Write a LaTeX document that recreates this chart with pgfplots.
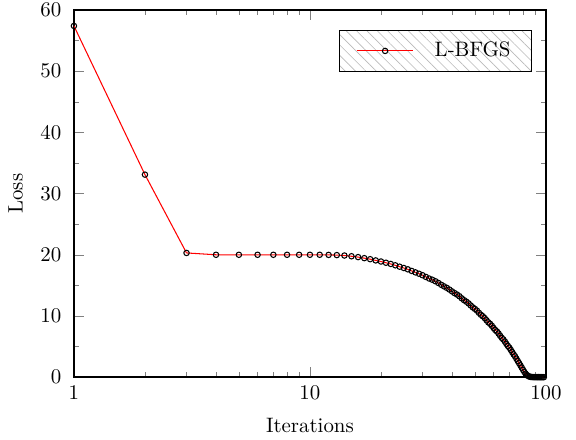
\documentclass[border=0pt]{standalone}
\usepackage{pgfplots}
\pgfplotsset{compat=1.18}
\usetikzlibrary{patterns.meta}
\begin{document}
\begin{tikzpicture}
\begin{axis}[
  scale only axis,
  width=226pt, height=175.8pt,
  xmode=log,
  xmin=1, xmax=100,
  ymin=0, ymax=60,
  ytick={0,10,...,60},
  minor y tick num=1,
  log ticks with fixed point,
  tick align=inside,
  xtick pos=both, ytick pos=both,
  xticklabel pos=bottom, yticklabel pos=left,
  major tick length=5pt, minor tick length=2.5pt,
  axis line style={line width=0.7pt},
  yticklabel style={xshift=-2.5pt},
  xticklabel style={yshift=-0.5pt},
  xlabel={Iterations}, ylabel={Loss},
  xlabel style={yshift=-2.5pt},
  ylabel style={yshift=1.5pt},
  legend style={at={(0.97,0.945)}, anchor=north east, draw=black,
    pattern={Lines[angle=-45, distance=3.5pt, line width=0.3pt]},
    pattern color=gray!55,
    inner xsep=8pt, inner ysep=3.5pt, column sep=8pt, font=\normalsize},
  legend image code/.code={
    \draw[red, line width=0.5pt, mark repeat=2, mark phase=2]
      plot coordinates {(0pt,0pt) (13.5pt,0pt) (27pt,0pt)};},
  legend cell align=left,
]
\addplot[red, line width=0.5pt, mark=o, mark size=1.3pt,
  mark options={draw=black, line width=0.5pt, fill=red!35}]
coordinates {
(1,57.4) (2,33.1) (3,20.3) (4,20.0) (5,20.0) (6,20.0) (7,20.0) (8,20.0)
(9,20.0) (10,20.0) (11,20.0) (12,19.98) (13,19.95) (14,19.88) (15,19.76)
(16,19.62) (17,19.45) (18,19.28) (19,19.08) (20,18.90) (21,18.70) (22,18.50)
(23,18.28) (24,18.05) (25,17.84) (26,17.62) (27,17.36) (28,17.12) (29,16.90)
(30,16.66) (31,16.38) (32,16.12) (33,15.92) (34,15.68) (35,15.40) (36,15.10)
(37,14.84) (38,14.60) (39,14.32) (40,14.02) (41,13.74) (42,13.50) (43,13.22)
(44,12.88) (45,12.58) (46,12.34) (47,12.06) (48,11.72) (49,11.40) (50,11.16)
(51,10.88) (52,10.52) (53,10.20) (54,9.96) (55,9.66) (56,9.30) (57,8.96)
(58,8.72) (59,8.40) (60,8.04) (61,7.70) (62,7.46) (63,7.14) (64,6.76)
(65,6.42) (66,6.16) (67,5.82) (68,5.44) (69,5.10) (70,4.82) (71,4.46)
(72,4.08) (73,3.72) (74,3.40) (75,3.02) (76,2.64) (77,2.28) (78,1.92)
(79,1.56) (80,1.20) (81,0.86) (82,0.58) (83,0.36) (84,0.20) (85,0.10)
(86,0.05) (87,0.03) (88,0.02) (89,0.01) (90,0.01) (91,0.0) (92,0.0)
(93,0.0) (94,0.0) (95,0.0) (96,0.0) (97,0.0) (98,0.0)
};
\addlegendentry{L-BFGS}
\end{axis}
\pgfresetboundingbox
\path ([shift={(-35.4pt,-29.7pt)}]current axis.south west)
  rectangle ([shift={(14.4pt,4.8pt)}]current axis.north east);
\end{tikzpicture}
\end{document}
